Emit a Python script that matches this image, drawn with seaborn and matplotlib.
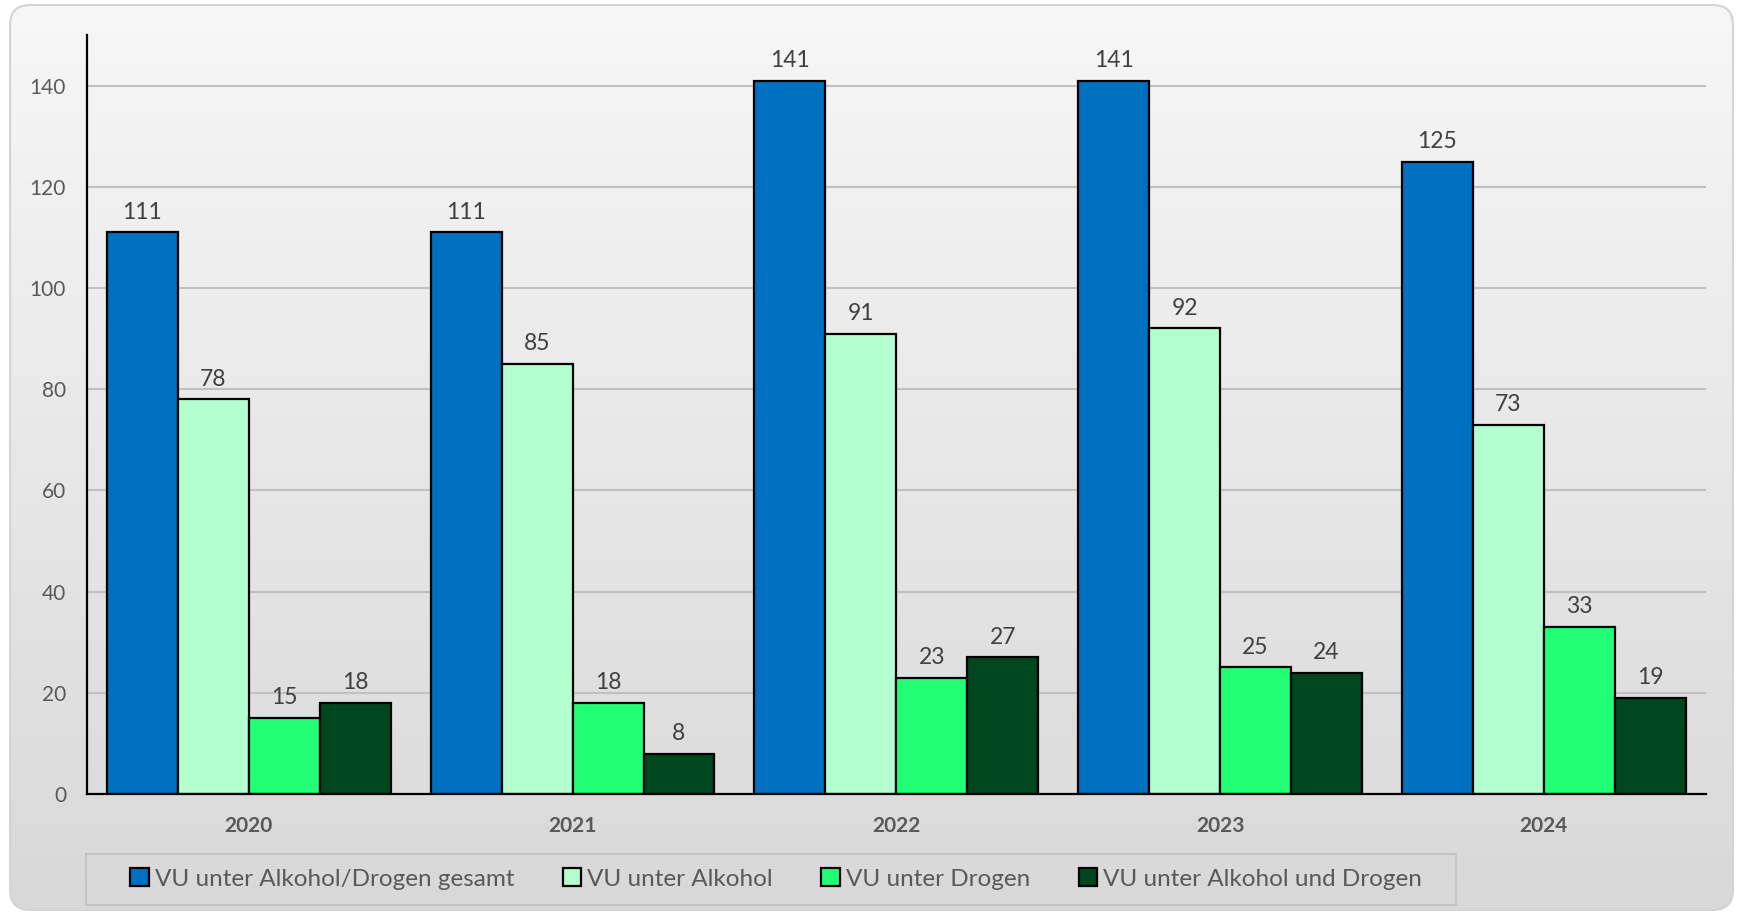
import numpy as np
import pandas as pd
import matplotlib.pyplot as plt
import seaborn as sns
from matplotlib.colors import LinearSegmentedColormap
from matplotlib.patches import FancyBboxPatch, Rectangle

# Daten
jahre = ['2020', '2021', '2022', '2023', '2024']
kategorien = ['VU unter Alkohol/Drogen gesamt', 'VU unter Alkohol',
              'VU unter Drogen', 'VU unter Alkohol und Drogen']
gesamt = [111, 111, 141, 141, 125]
alkohol = [78, 85, 91, 92, 73]
drogen = [15, 18, 23, 25, 33]
alk_und_drogen = [18, 8, 27, 24, 19]
farben = ['#0070C0', '#B3FFD0', '#22FF75', '#00461E']

df = pd.DataFrame({
    'Jahr': jahre * 4,
    'Kategorie': [k for k in kategorien for _ in jahre],
    'Anzahl': gesamt + alkohol + drogen + alk_und_drogen,
})

plt.rcParams['font.family'] = ['Lato', 'DejaVu Sans']
textfarbe = '#595959'

fig = plt.figure(figsize=(17.37, 9.14), dpi=100)
fig.patch.set_facecolor('white')

# Hintergrund mit Verlauf und abgerundetem Rahmen
bg = fig.add_axes([0, 0, 1, 1])
bg.axis('off')
bg.set_xlim(0, 1)
bg.set_ylim(0, 1)
verlauf = np.linspace(0, 1, 256).reshape(-1, 1)
cmap = LinearSegmentedColormap.from_list('bg', ['#f7f7f7', '#d8d8d8'])
im = bg.imshow(verlauf, aspect='auto', cmap=cmap, extent=(0, 1, 0, 1), origin='upper')
rahmen = FancyBboxPatch((0.0058, 0.0044), 0.9919, 0.9901,
                        boxstyle='round,pad=0,rounding_size=0.0115',
                        mutation_aspect=1.9, transform=bg.transAxes,
                        fc='none', ec='#d4d4d4', lw=1.5)
bg.add_patch(rahmen)
im.set_clip_path(rahmen)

# Rahmen der Legende
bg.add_patch(Rectangle((86 / 1737, 1 - 905 / 914), 1370 / 1737, 51 / 914,
                       transform=bg.transAxes, fc='none', ec='#c4c4c4', lw=1.5))

# Diagramm
ax = fig.add_axes([0.050, 0.1313, 0.932, 0.8304])
ax.set_facecolor('none')
sns.barplot(data=df, x='Jahr', y='Anzahl', hue='Kategorie', palette=farben,
            width=0.877, edgecolor='black', linewidth=1.6, saturation=1, ax=ax)

for c in ax.containers:
    ax.bar_label(c, padding=7, fontsize=16.5, color='#404040')

ax.set_ylim(0, 150)
ax.set_yticks(range(0, 141, 20))
ax.yaxis.grid(True, color='#c0c0c0', lw=1.5)
ax.set_axisbelow(True)
ax.set_xlabel('')
ax.set_ylabel('')
for s in ['top', 'right']:
    ax.spines[s].set_visible(False)
for s in ['left', 'bottom']:
    ax.spines[s].set_color('black')
    ax.spines[s].set_linewidth(1.6)
ax.tick_params(axis='y', length=0, pad=15, labelsize=15, labelcolor=textfarbe)
ax.tick_params(axis='x', length=0, pad=16, labelsize=15, labelcolor=textfarbe)
for t in ax.get_xticklabels():
    t.set_fontweight('bold')

handles, labels = ax.get_legend_handles_labels()
ax.legend_.remove()
leg = fig.legend(handles, labels, loc='center', bbox_to_anchor=(0.4468, 0.0383),
                 ncol=4, frameon=False, handlelength=0.75, handleheight=0.75,
                 handletextpad=0.25, columnspacing=2.0, fontsize=17.5)
for t in leg.get_texts():
    t.set_color(textfarbe)

fig.savefig('out.png', dpi=100)
